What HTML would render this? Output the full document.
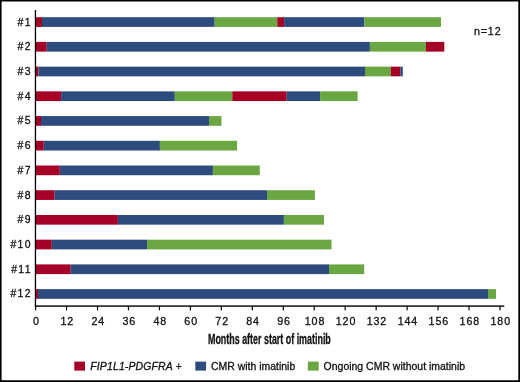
<!DOCTYPE html>
<html lang="en"><head><meta charset="utf-8"><title>Chart</title>
<style>
html,body{margin:0;padding:0;background:#fff;}
body{width:520px;height:382px;overflow:hidden;}
svg{display:block;}
text{font-family:"Liberation Sans",Arial,Helvetica,sans-serif;fill:#111;stroke:#111;stroke-width:0.3px;}
</style></head><body>
<svg width="520" height="382" viewBox="0 0 520 382">
<rect x="0" y="0" width="520" height="382" fill="#fff"/>
<path d="M0 0H520V382H0Z M1.6 1.55V380.3H518.3V1.55Z" fill="#000" fill-rule="evenodd"/>
<rect x="36.00" y="17.20" width="6.00" height="9.7" fill="#a50026"/>
<rect x="42.00" y="17.20" width="172.70" height="9.7" fill="#2d4b7d"/>
<rect x="214.70" y="17.20" width="62.60" height="9.7" fill="#6aa642"/>
<rect x="277.30" y="17.20" width="6.80" height="9.7" fill="#a50026"/>
<rect x="284.10" y="17.20" width="80.30" height="9.7" fill="#2d4b7d"/>
<rect x="364.40" y="17.20" width="76.60" height="9.7" fill="#6aa642"/>
<text x="31.8" y="25.55" font-size="10.45" text-anchor="end" letter-spacing="1.3">#1</text>
<rect x="36.00" y="41.92" width="10.70" height="9.7" fill="#a50026"/>
<rect x="46.70" y="41.92" width="323.20" height="9.7" fill="#2d4b7d"/>
<rect x="369.90" y="41.92" width="56.10" height="9.7" fill="#6aa642"/>
<rect x="426.00" y="41.92" width="18.30" height="9.7" fill="#a50026"/>
<text x="31.8" y="50.27" font-size="10.45" text-anchor="end" letter-spacing="1.3">#2</text>
<rect x="36.00" y="66.64" width="2.40" height="9.7" fill="#a50026"/>
<rect x="38.40" y="66.64" width="326.60" height="9.7" fill="#2d4b7d"/>
<rect x="365.00" y="66.64" width="25.80" height="9.7" fill="#6aa642"/>
<rect x="390.80" y="66.64" width="9.50" height="9.7" fill="#a50026"/>
<rect x="400.30" y="66.64" width="2.50" height="9.7" fill="#2d4b7d"/>
<text x="31.8" y="74.99" font-size="10.45" text-anchor="end" letter-spacing="1.3">#3</text>
<rect x="36.00" y="91.36" width="25.10" height="9.7" fill="#a50026"/>
<rect x="61.10" y="91.36" width="113.70" height="9.7" fill="#2d4b7d"/>
<rect x="174.80" y="91.36" width="57.50" height="9.7" fill="#6aa642"/>
<rect x="232.30" y="91.36" width="54.40" height="9.7" fill="#a50026"/>
<rect x="286.70" y="91.36" width="33.40" height="9.7" fill="#2d4b7d"/>
<rect x="320.10" y="91.36" width="37.50" height="9.7" fill="#6aa642"/>
<text x="31.8" y="99.71" font-size="10.45" text-anchor="end" letter-spacing="1.3">#4</text>
<rect x="36.00" y="116.08" width="5.00" height="9.7" fill="#a50026"/>
<rect x="41.00" y="116.08" width="168.00" height="9.7" fill="#2d4b7d"/>
<rect x="209.00" y="116.08" width="12.50" height="9.7" fill="#6aa642"/>
<text x="31.8" y="124.43" font-size="10.45" text-anchor="end" letter-spacing="1.3">#5</text>
<rect x="36.00" y="140.80" width="7.75" height="9.7" fill="#a50026"/>
<rect x="43.75" y="140.80" width="116.15" height="9.7" fill="#2d4b7d"/>
<rect x="159.90" y="140.80" width="77.20" height="9.7" fill="#6aa642"/>
<text x="31.8" y="149.15" font-size="10.45" text-anchor="end" letter-spacing="1.3">#6</text>
<rect x="36.00" y="165.52" width="23.80" height="9.7" fill="#a50026"/>
<rect x="59.80" y="165.52" width="153.10" height="9.7" fill="#2d4b7d"/>
<rect x="212.90" y="165.52" width="46.90" height="9.7" fill="#6aa642"/>
<text x="31.8" y="173.87" font-size="10.45" text-anchor="end" letter-spacing="1.3">#7</text>
<rect x="36.00" y="190.24" width="18.60" height="9.7" fill="#a50026"/>
<rect x="54.60" y="190.24" width="212.40" height="9.7" fill="#2d4b7d"/>
<rect x="267.00" y="190.24" width="47.90" height="9.7" fill="#6aa642"/>
<text x="31.8" y="198.59" font-size="10.45" text-anchor="end" letter-spacing="1.3">#8</text>
<rect x="36.00" y="214.96" width="81.90" height="9.7" fill="#a50026"/>
<rect x="117.90" y="214.96" width="166.00" height="9.7" fill="#2d4b7d"/>
<rect x="283.90" y="214.96" width="40.10" height="9.7" fill="#6aa642"/>
<text x="31.8" y="223.31" font-size="10.45" text-anchor="end" letter-spacing="1.3">#9</text>
<rect x="36.00" y="239.68" width="15.80" height="9.7" fill="#a50026"/>
<rect x="51.80" y="239.68" width="95.20" height="9.7" fill="#2d4b7d"/>
<rect x="147.00" y="239.68" width="184.50" height="9.7" fill="#6aa642"/>
<text x="31.8" y="248.03" font-size="10.45" text-anchor="end" letter-spacing="1.3">#10</text>
<rect x="36.00" y="264.40" width="34.70" height="9.7" fill="#a50026"/>
<rect x="70.70" y="264.40" width="258.30" height="9.7" fill="#2d4b7d"/>
<rect x="329.00" y="264.40" width="35.20" height="9.7" fill="#6aa642"/>
<text x="31.8" y="272.75" font-size="10.45" text-anchor="end" letter-spacing="1.3">#11</text>
<rect x="36.00" y="289.12" width="2.00" height="9.7" fill="#a50026"/>
<rect x="38.00" y="289.12" width="450.00" height="9.7" fill="#2d4b7d"/>
<rect x="488.00" y="289.12" width="8.00" height="9.7" fill="#6aa642"/>
<text x="31.8" y="297.47" font-size="10.45" text-anchor="end" letter-spacing="1.3">#12</text>
<rect x="34.8" y="10" width="1.3" height="296.8" fill="#000"/>
<rect x="34.8" y="305.4" width="469.5" height="1.4" fill="#000"/>
<rect x="35.00" y="306" width="1.2" height="4.3" fill="#000"/>
<text x="36.40" y="324.5" font-size="10.7" text-anchor="middle" letter-spacing="0.9" stroke-width="0.15">0</text>
<rect x="65.96" y="306" width="1.2" height="4.3" fill="#000"/>
<text x="67.36" y="324.5" font-size="10.7" text-anchor="middle" letter-spacing="0.9" stroke-width="0.15">12</text>
<rect x="96.92" y="306" width="1.2" height="4.3" fill="#000"/>
<text x="98.32" y="324.5" font-size="10.7" text-anchor="middle" letter-spacing="0.9" stroke-width="0.15">24</text>
<rect x="127.88" y="306" width="1.2" height="4.3" fill="#000"/>
<text x="129.28" y="324.5" font-size="10.7" text-anchor="middle" letter-spacing="0.9" stroke-width="0.15">36</text>
<rect x="158.84" y="306" width="1.2" height="4.3" fill="#000"/>
<text x="160.24" y="324.5" font-size="10.7" text-anchor="middle" letter-spacing="0.9" stroke-width="0.15">48</text>
<rect x="189.80" y="306" width="1.2" height="4.3" fill="#000"/>
<text x="191.20" y="324.5" font-size="10.7" text-anchor="middle" letter-spacing="0.9" stroke-width="0.15">60</text>
<rect x="220.76" y="306" width="1.2" height="4.3" fill="#000"/>
<text x="222.16" y="324.5" font-size="10.7" text-anchor="middle" letter-spacing="0.9" stroke-width="0.15">72</text>
<rect x="251.72" y="306" width="1.2" height="4.3" fill="#000"/>
<text x="253.12" y="324.5" font-size="10.7" text-anchor="middle" letter-spacing="0.9" stroke-width="0.15">84</text>
<rect x="282.68" y="306" width="1.2" height="4.3" fill="#000"/>
<text x="284.08" y="324.5" font-size="10.7" text-anchor="middle" letter-spacing="0.9" stroke-width="0.15">96</text>
<rect x="313.64" y="306" width="1.2" height="4.3" fill="#000"/>
<text x="315.04" y="324.5" font-size="10.7" text-anchor="middle" letter-spacing="0.9" stroke-width="0.15">108</text>
<rect x="344.60" y="306" width="1.2" height="4.3" fill="#000"/>
<text x="346.00" y="324.5" font-size="10.7" text-anchor="middle" letter-spacing="0.9" stroke-width="0.15">120</text>
<rect x="375.56" y="306" width="1.2" height="4.3" fill="#000"/>
<text x="376.96" y="324.5" font-size="10.7" text-anchor="middle" letter-spacing="0.9" stroke-width="0.15">132</text>
<rect x="406.52" y="306" width="1.2" height="4.3" fill="#000"/>
<text x="407.92" y="324.5" font-size="10.7" text-anchor="middle" letter-spacing="0.9" stroke-width="0.15">144</text>
<rect x="437.48" y="306" width="1.2" height="4.3" fill="#000"/>
<text x="438.88" y="324.5" font-size="10.7" text-anchor="middle" letter-spacing="0.9" stroke-width="0.15">156</text>
<rect x="468.44" y="306" width="1.2" height="4.3" fill="#000"/>
<text x="469.84" y="324.5" font-size="10.7" text-anchor="middle" letter-spacing="0.9" stroke-width="0.15">168</text>
<rect x="499.40" y="306" width="1.2" height="4.3" fill="#000"/>
<text x="500.80" y="324.5" font-size="10.7" text-anchor="middle" letter-spacing="0.9" stroke-width="0.15">180</text>
<text x="474" y="34.5" font-size="10.7" textLength="26.6" lengthAdjust="spacing" stroke-width="0.15">n=12</text>
<text x="208" y="343.7" font-size="14.4" font-weight="bold" fill="#000" stroke="#fff" stroke-width="0.55" textLength="122.8" lengthAdjust="spacingAndGlyphs">Months after start of imatinib</text>
<rect x="74.3" y="361.6" width="10.7" height="9" fill="#a50026"/>
<text x="90.3" y="369.6" font-size="10.45" font-style="italic" textLength="91.3" lengthAdjust="spacing" stroke-width="0.1">FIP1L1-PDGFRA +</text>
<rect x="195.3" y="361.6" width="10.8" height="9" fill="#2d4b7d"/>
<text x="211" y="369.6" font-size="10.45" textLength="84.2" lengthAdjust="spacing" stroke-width="0.1">CMR with imatinib</text>
<rect x="307.8" y="361.6" width="10.9" height="9" fill="#6aa642"/>
<text x="323.6" y="369.6" font-size="10.45" textLength="141.5" lengthAdjust="spacing" stroke-width="0.1">Ongoing CMR without imatinib</text>
</svg>
</body></html>
